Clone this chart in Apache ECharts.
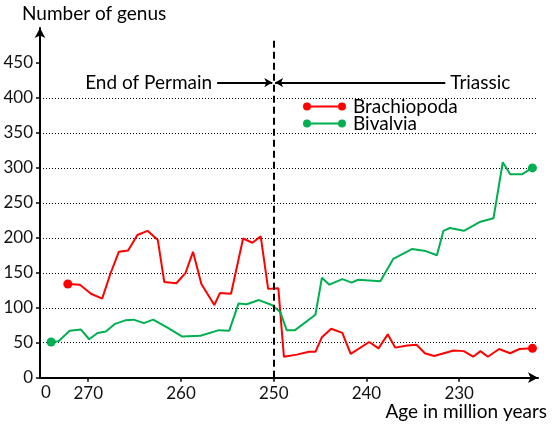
<!DOCTYPE html>
<html><head><meta charset="utf-8">
<script src="https://cdn.jsdelivr.net/npm/echarts@6/dist/echarts.min.js"></script>
<style>html,body{margin:0;padding:0;background:#fff}#c{width:557px;height:427px}</style>
</head><body><div id="c"></div>
<script>
// Brachiopoda: age (Ma) and number of genera
const brachioAge = [272.2,270.9,269.7,268.5,267.6,266.7,265.7,264.7,263.6,262.5,261.8,260.5,259.5,258.7,257.8,256.4,255.8,254.6,253.3,252.3,251.4,250.6,249.5,248.9,247.5,246.2,245.5,244.8,243.8,242.6,241.7,239.7,238.7,237.7,236.9,235.6,234.6,233.7,232.7,230.6,229.5,228.5,227.7,226.9,225.7,224.5,223.5,222.1];
const brachioCount = [134,133,120,113,149,180,182,204,210,197,137,135,150,180,134,104,121,120,199,193,202,127,128,30,33,37,37,58,70,64,34,51,42,62,43,46,47,35,31,39,38,30,38,30,41,35,41,42];
// Bivalvia
const bivalveAge = [274.0,273.2,272.0,270.8,269.9,269.0,268.1,267.1,266.0,265.1,264.0,263.0,261.5,259.9,257.9,255.9,254.8,253.8,252.9,251.6,250.2,249.3,248.6,247.7,245.5,244.8,244.0,242.6,241.6,240.9,238.5,237.1,235.1,233.6,232.4,231.7,231.0,229.5,227.7,226.3,225.3,224.5,223.2,222.1];
const bivalveCount = [51,52,67,69,55,64,66,77,82,83,78,83,72,59,60,68,67,106,105,111,104,94,68,68,90,143,133,141,136,140,138,170,184,181,175,210,214,210,223,228,308,291,291,300];
const xTicks = [270,260,250,240,230];
const yTicks = [0,50,100,150,200,250,300,350,400,450];
const boundaryAge = 250;
const permianLabel = 'End of Permain';
const triassicLabel = 'Triassic';

const FONT = 'Lato';
const chart = echarts.init(document.getElementById('c'), null, {renderer:'canvas'});
const legendIcon = 'path://M4,0A4,4 0 1,1 4,8A4,4 0 1,1 4,0ZM39,0A4,4 0 1,1 39,8A4,4 0 1,1 39,0ZM4,3L39,3L39,5L4,5Z';
function ends(n){ return function(v,p){ return (p.dataIndex===0||p.dataIndex===n-1)?9:0; }; }

chart.setOption({
  animation:false,
  textStyle:{fontFamily:FONT},
  graphic:[
    {type:'text',left:22,top:4,style:{text:'Number of genus',font:'19px '+FONT,fill:'#000'}},
    {type:'text',left:41,top:384,style:{text:'0',font:'17px '+FONT,fill:'#111'}}
  ],
  legend:{
    orient:'vertical', left:303, top:97, padding:0, itemWidth:43, itemHeight:8, itemGap:-2,
    textStyle:{fontFamily:FONT,fontSize:19,color:'#000',padding:[0,0,0,2]},
    data:[{name:'Brachiopoda',icon:legendIcon},{name:'Bivalvia',icon:legendIcon}]
  },
  grid:{left:40,right:19,top:28,bottom:49.3,containLabel:false,outerBoundsMode:'none'},
  xAxis:{
    type:'value', inverse:true, min:221.5, max:275.2,
    name:'Age in million years', nameLocation:'start', nameGap:9,
    nameTextStyle:{fontFamily:FONT,fontSize:19,color:'#000',align:'right',verticalAlign:'top',padding:[25,0,0,0]},
    axisLine:{show:true,symbol:['none','arrow'],symbolSize:[8,10],lineStyle:{color:'#000',width:2}},
    axisTick:{show:true,customValues:xTicks,length:4,inside:false,lineStyle:{color:'#000',width:1.5}},
    axisLabel:{customValues:xTicks,margin:7,fontFamily:FONT,fontSize:17,color:'#111'},
    splitLine:{show:false}
  },
  yAxis:{
    type:'value', min:0, max:500, interval:50,
    axisLine:{show:true,symbol:['none','arrow'],symbolSize:[8,10],lineStyle:{color:'#000',width:2}},
    axisTick:{show:true,customValues:yTicks,length:4,lineStyle:{color:'#000',width:1.5}},
    axisLabel:{customValues:yTicks,margin:7,fontFamily:FONT,fontSize:17,color:'#111'},
    splitLine:{show:true,showMinLine:false,showMaxLine:false,lineStyle:{color:'#000',type:[1,2],width:1}}
  },
  series:[
    {
      name:'Brachiopoda', type:'line', color:'#ff0000',
      data:brachioAge.map((a,i)=>[a,brachioCount[i]]),
      symbol:'circle', symbolSize:ends(brachioAge.length), showAllSymbol:true,
      lineStyle:{width:2}, itemStyle:{color:'#ff0000'},
      markLine:{
        silent:true, symbol:['none','arrow'], symbolSize:[7,8], animation:false,
        lineStyle:{color:'#000',width:1.8,type:'solid'},
        label:{show:false},
        data:[
          [{coord:[boundaryAge,0],symbol:'none',lineStyle:{type:[7,4],width:2,color:'#000'}},{coord:[boundaryAge,487],symbol:'none'}],
          [{coord:[256.1,422],label:{show:true,position:'start',formatter:permianLabel,fontFamily:FONT,fontSize:19,color:'#000',distance:5}},{coord:[250.15,422]}],
          [{coord:[231.5,422],label:{show:true,position:'start',formatter:triassicLabel,fontFamily:FONT,fontSize:19,color:'#000',distance:5}},{coord:[249.85,422]}]
        ]
      }
    },
    {
      name:'Bivalvia', type:'line', color:'#00b050',
      data:bivalveAge.map((a,i)=>[a,bivalveCount[i]]),
      symbol:'circle', symbolSize:ends(bivalveAge.length), showAllSymbol:true,
      lineStyle:{width:2}, itemStyle:{color:'#00b050'}
    }
  ]
});
</script></body></html>
